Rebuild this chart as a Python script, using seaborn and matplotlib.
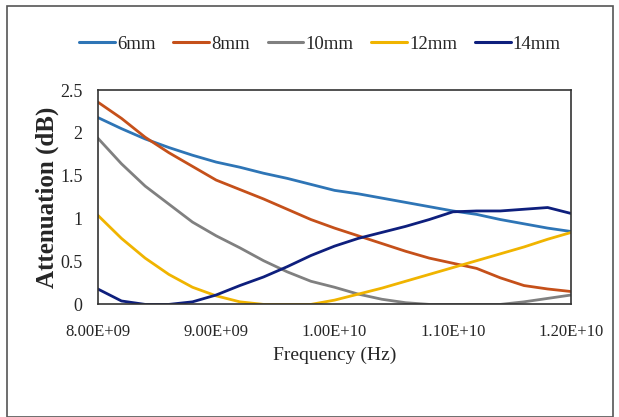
import pandas as pd
import matplotlib.pyplot as plt
import seaborn as sns
from matplotlib.patches import Rectangle

# Frequency sweep (GHz) and attenuation (dB) for each thickness
freq_ghz = [8.0, 8.2, 8.4, 8.6, 8.8, 9.0, 9.2, 9.4, 9.6, 9.8, 10.0,
            10.2, 10.4, 10.6, 10.8, 11.0, 11.2, 11.4, 11.6, 11.8, 12.0]
att_6mm = [2.18, 2.05, 1.93, 1.83, 1.74, 1.66, 1.60, 1.53, 1.47, 1.40, 1.33,
           1.29, 1.24, 1.19, 1.14, 1.09, 1.05, 0.99, 0.94, 0.89, 0.85]
att_8mm = [2.36, 2.17, 1.95, 1.77, 1.61, 1.45, 1.34, 1.23, 1.11, 0.99, 0.89,
           0.80, 0.71, 0.62, 0.54, 0.48, 0.42, 0.31, 0.22, 0.18, 0.15]
att_10mm = [1.94, 1.64, 1.38, 1.17, 0.96, 0.80, 0.66, 0.51, 0.38, 0.27, 0.20,
            0.12, 0.06, 0.02, 0.0, 0.0, 0.0, 0.0, 0.03, 0.07, 0.11]
att_12mm = [1.04, 0.77, 0.54, 0.35, 0.20, 0.10, 0.03, 0.0, 0.0, 0.0, 0.05,
            0.12, 0.19, 0.27, 0.35, 0.43, 0.51, 0.59, 0.67, 0.76, 0.84]
att_14mm = [0.18, 0.04, 0.0, 0.0, 0.03, 0.11, 0.22, 0.32, 0.44, 0.57, 0.68,
            0.77, 0.84, 0.91, 0.99, 1.08, 1.09, 1.09, 1.11, 1.13, 1.06]

labels = ["6mm", "8mm", "10mm", "12mm", "14mm"]
colors = ["#2E75B6", "#C5501A", "#808080", "#F0B400", "#0E1F7D"]
x_ticks = [8.0e9, 9.0e9, 1.0e10, 1.1e10, 1.2e10]
x_ticklabels = ["8.00E+09", "9.00E+09", "1.00E+10", "1.10E+10", "1.20E+10"]
y_ticks = [0, 0.5, 1, 1.5, 2, 2.5]
y_ticklabels = ["0", "0.5", "1", "1.5", "2", "2.5"]

series = [att_6mm, att_8mm, att_10mm, att_12mm, att_14mm]
frames = []
for lab, vals in zip(labels, series):
    frames.append(pd.DataFrame({"Frequency": [f * 1e9 for f in freq_ghz],
                                "Attenuation": vals, "Thickness": lab}))
df = pd.concat(frames, ignore_index=True)

sns.set_style("white")
plt.rcParams["font.family"] = ["Liberation Serif", "DejaVu Serif"]

fig = plt.figure(figsize=(6.19, 4.17), dpi=100)
ax = fig.add_axes([0.158, 0.270, 0.765, 0.514])

sns.lineplot(data=df, x="Frequency", y="Attenuation", hue="Thickness",
             hue_order=labels, palette=colors, linewidth=2.0, ax=ax, legend=False)

ax.set_xlim(8.0e9, 1.2e10)
ax.set_ylim(0, 2.5)
ax.set_xticks(x_ticks)
ax.set_xticklabels(x_ticklabels)
ax.set_yticks(y_ticks)
ax.set_yticklabels(y_ticklabels)
ax.tick_params(axis="x", labelsize=12, length=0, pad=14)
ax.tick_params(axis="y", labelsize=13, length=0, pad=11)
ax.set_xlabel("Frequency (Hz)", fontsize=14, labelpad=5)
ax.set_ylabel("Attenuation (dB)", fontsize=18, fontweight="bold", labelpad=1)
for sp in ax.spines.values():
    sp.set_color("#333333")
    sp.set_linewidth(1.2)

handles = [plt.Line2D([], [], color=c, linewidth=2.2) for c in colors]
fig.legend(handles, labels, loc="center", bbox_to_anchor=(0.517, 0.894), ncol=5,
           frameon=False, fontsize=13.5, handlelength=1.9, handletextpad=0.12,
           columnspacing=0.95)

# thin frame around the chart area
fig.patches.append(Rectangle((0.012, 0.0), 0.978, 0.985, transform=fig.transFigure,
                             fill=False, edgecolor="#555555", linewidth=1.2))

fig.savefig("out.png", dpi=100)
